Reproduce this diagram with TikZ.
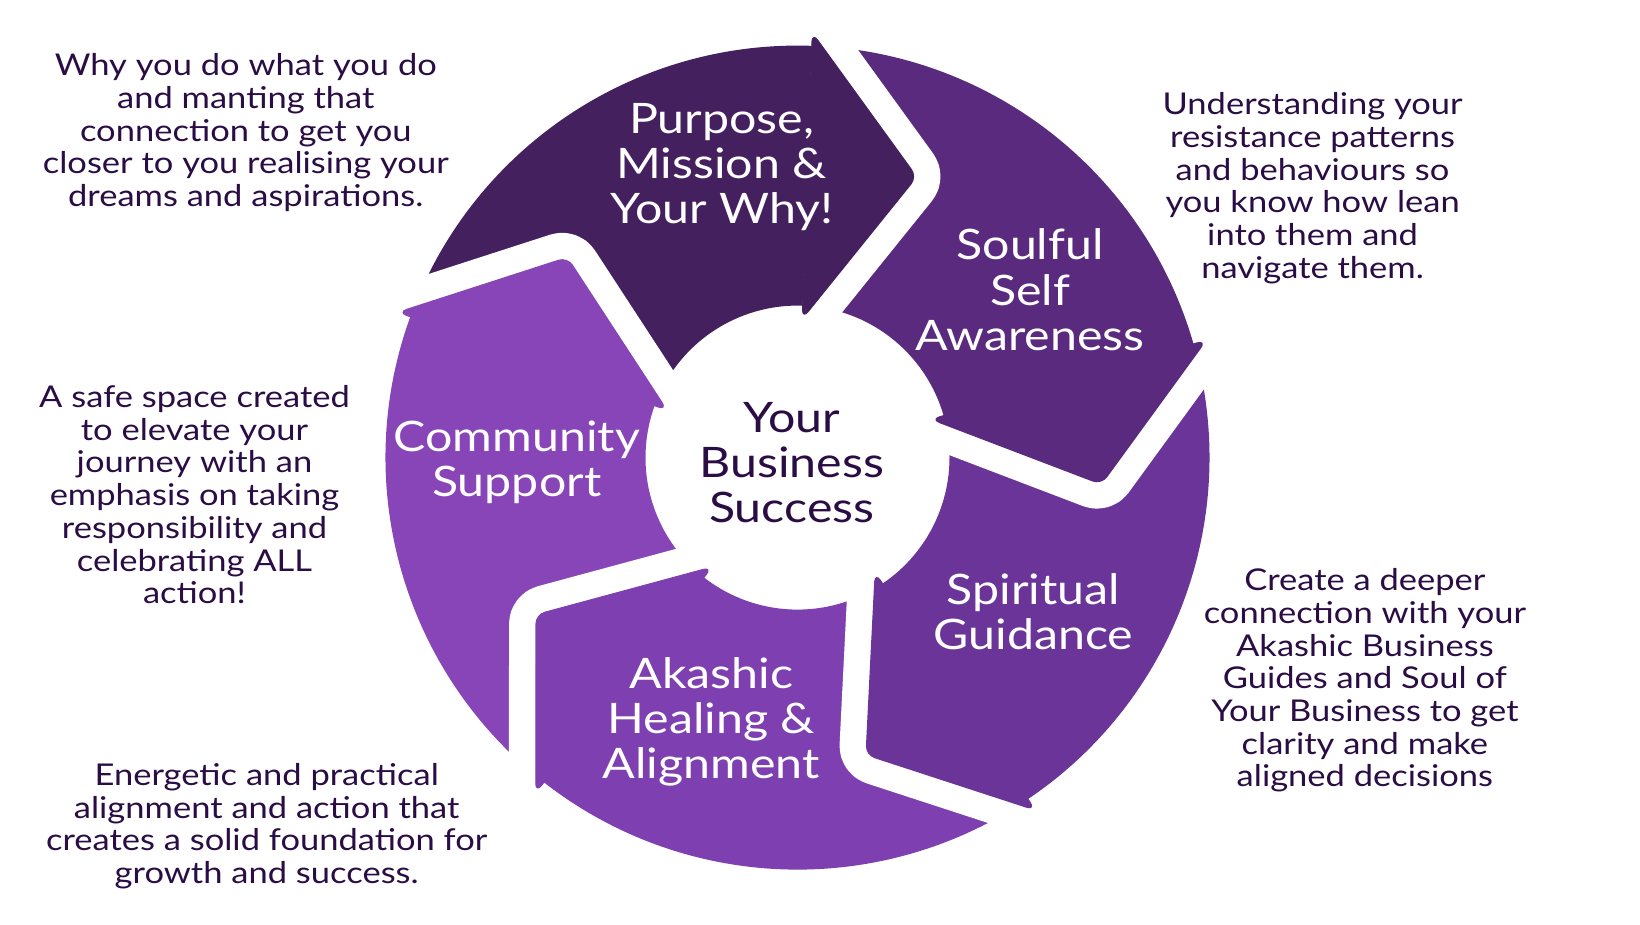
\documentclass[tikz,border=0pt]{standalone}
\usepackage{fontspec}
\setmainfont{Lato}[FakeStretch=1.15]
\usepackage{xcolor}
\usepackage{tikz}

\definecolor{purposecol}{HTML}{45205F}
\definecolor{soulcol}{HTML}{5A2A7E}
\definecolor{spiritcol}{HTML}{6B3498}
\definecolor{akashiccol}{HTML}{7E3FB0}
\definecolor{communitycol}{HTML}{8745B8}
\definecolor{notecol}{HTML}{2B0D45}

\begin{document}
\begin{tikzpicture}[x=1pt,y=1pt,
    seglabel/.style={text=white, align=center, font=\fontsize{42}{45}\selectfont},
    hublabel/.style={text=notecol, align=center, font=\fontsize{42}{45}\selectfont},
    note/.style={text=notecol, align=center, font=\fontsize{30}{32.7}\selectfont},
    gapline/.style={white, line width=54pt, line join=round, rounded corners=9pt},
    headfill/.style={rounded corners=9pt, line width=1.2pt}]
        \fill[white] (-797.5,-466.4) rectangle (842.5,457.6);
        \useasboundingbox (-797.5,-466.4) rectangle (842.5,457.6);
        % ring bodies
        \fill[purposecol] (160:412pt) arc[start angle=160, end angle=88, radius=412pt] -- (88:152pt) arc[start angle=88, end angle=160, radius=152pt] -- cycle;
        \fill[soulcol] (88:412pt) arc[start angle=88, end angle=16, radius=412pt] -- (16:152pt) arc[start angle=16, end angle=88, radius=152pt] -- cycle;
        \fill[spiritcol] (16:412pt) arc[start angle=16, end angle=-56, radius=412pt] -- (-56:152pt) arc[start angle=-56, end angle=16, radius=152pt] -- cycle;
        \fill[akashiccol] (-56:412pt) arc[start angle=-56, end angle=-128, radius=412pt] -- (-128:152pt) arc[start angle=-128, end angle=-56, radius=152pt] -- cycle;
        \fill[communitycol] (-128:412pt) arc[start angle=-128, end angle=-200, radius=412pt] -- (-200:152pt) arc[start angle=-200, end angle=-128, radius=152pt] -- cycle;
        % arrow heads with white gap
        \begin{scope}
          \clip (0,0) -- (88:700pt) arc[start angle=88, end angle=16, radius=700pt] -- cycle;
          \draw[gapline] (88:425pt) -- (67:305pt) -- (88:139pt);
        \end{scope}
        \filldraw[purposecol, headfill] (88:425pt) -- (67:305pt) -- (88:139pt) -- cycle;
        \begin{scope}
          \clip (0,0) -- (16:700pt) arc[start angle=16, end angle=-56, radius=700pt] -- cycle;
          \draw[gapline] (16:425pt) -- (-5:305pt) -- (16:139pt);
        \end{scope}
        \filldraw[soulcol, headfill] (16:425pt) -- (-5:305pt) -- (16:139pt) -- cycle;
        \begin{scope}
          \clip (0,0) -- (-56:700pt) arc[start angle=-56, end angle=-128, radius=700pt] -- cycle;
          \draw[gapline] (-56:425pt) -- (-77:305pt) -- (-56:139pt);
        \end{scope}
        \filldraw[spiritcol, headfill] (-56:425pt) -- (-77:305pt) -- (-56:139pt) -- cycle;
        \begin{scope}
          \clip (0,0) -- (-128:700pt) arc[start angle=-128, end angle=-200, radius=700pt] -- cycle;
          \draw[gapline] (-128:425pt) -- (-149:305pt) -- (-128:139pt);
        \end{scope}
        \filldraw[akashiccol, headfill] (-128:425pt) -- (-149:305pt) -- (-128:139pt) -- cycle;
        \begin{scope}
          \clip (0,0) -- (160:700pt) arc[start angle=160, end angle=88, radius=700pt] -- cycle;
          \draw[gapline] (160:425pt) -- (139:305pt) -- (160:139pt);
        \end{scope}
        \filldraw[communitycol, headfill] (160:425pt) -- (139:305pt) -- (160:139pt) -- cycle;
        % labels
        \node[seglabel] (purpose) at (-75.8,290.3) {Purpose,\\Mission \&\\Your Why!};
        \node[seglabel] (soulful) at (232.5,167.9) {Soulful\\Self\\Awareness};
        \node[seglabel] (spiritual) at (235.9,-154.3) {Spiritual\\Guidance};
        \node[seglabel] (akashic) at (-86.3,-264.1) {Akashic\\Healing \&\\Alignment};
        \node[seglabel] (community) at (-280.8,-4.7) {Community\\Support};
        \node[hublabel] (hub) at (-5.8,-4.7) {Your\\Business\\Success};
        % notes
        \node[note] (whynote) at (-551.7,324.8) {Why you do what you do\\and manting that\\connection to get you\\closer to you realising your\\dreams and aspirations.};
        \node[note] (soulnote) at (515.1,269.3) {Understanding your\\resistance patterns\\and behaviours so\\you know how lean\\into them and\\navigate them.};
        \node[note] (communitynote) at (-603,-37.1) {A safe space created\\to elevate your\\journey with an\\emphasis on taking\\responsibility and\\celebrating ALL\\action!};
        \node[note] (spiritnote) at (567.4,-222.8) {Create a deeper\\connection with your\\Akashic Business\\Guides and Soul of\\Your Business to get\\clarity and make\\aligned decisions};
        \node[note] (akashicnote) at (-530.8,-368.7) {Energetic and practical\\alignment and action that\\creates a solid foundation for\\growth and success.};
      \end{tikzpicture}
\end{document}
